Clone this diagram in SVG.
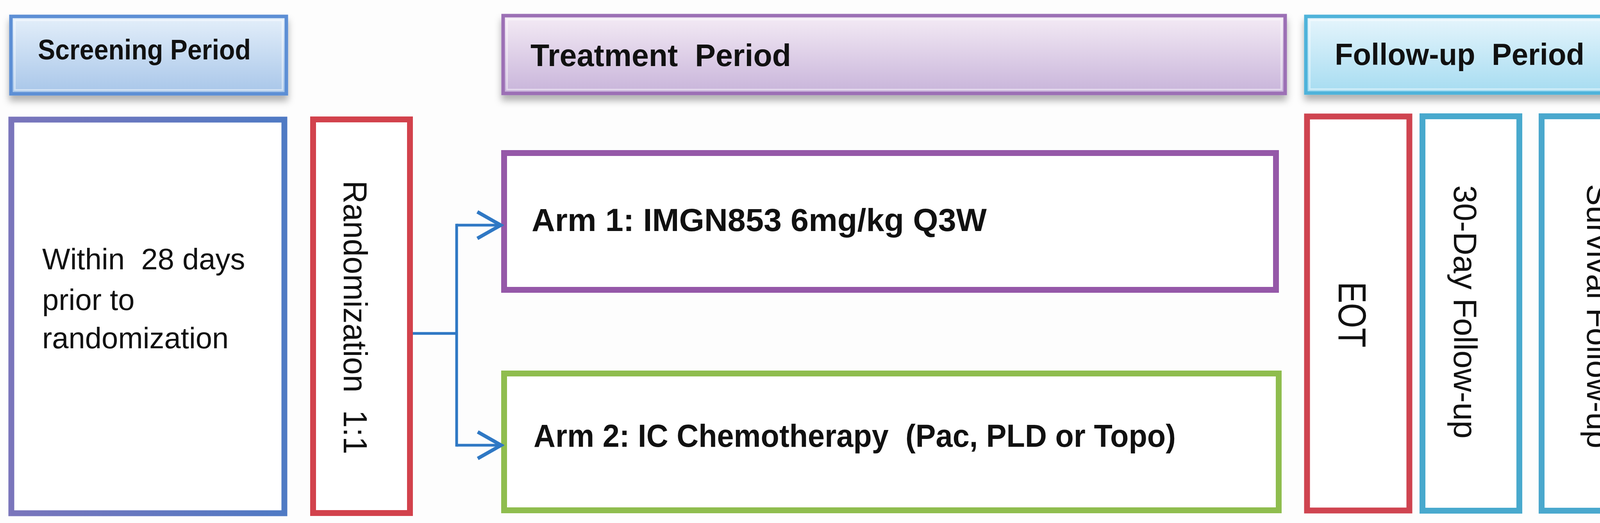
<svg xmlns="http://www.w3.org/2000/svg" width="4380" height="1338" viewBox="0 0 4380 1338">
  <style>
    .hdr { font-family: "Liberation Sans", Arial, sans-serif; font-weight: bold; fill: #111; }
    .arm { font-family: "Liberation Sans", Arial, sans-serif; font-weight: bold; fill: #111; font-size: 82px; }
    .lbl { font-family: "Liberation Sans", Arial, sans-serif; fill: #111; }
    .box { fill: #ffffff; stroke-width: 15; }
    .conn { fill: none; stroke: #2f78c4; stroke-width: 7; }
  </style>
  <defs>
    <linearGradient id="gScr" x1="0" y1="0" x2="0" y2="1">
      <stop offset="0" stop-color="#e4effa"/>
      <stop offset="1" stop-color="#a8c6e9"/>
    </linearGradient>
    <linearGradient id="gTrt" x1="0" y1="0" x2="0" y2="1">
      <stop offset="0" stop-color="#f4ebf5"/>
      <stop offset="1" stop-color="#c8b4da"/>
    </linearGradient>
    <linearGradient id="gFol" x1="0" y1="0" x2="0" y2="1">
      <stop offset="0" stop-color="#e6f5fc"/>
      <stop offset="1" stop-color="#a6dcf1"/>
    </linearGradient>
    <linearGradient id="gScrStroke" x1="0" y1="0" x2="1" y2="0">
      <stop offset="0" stop-color="#7a75bb"/>
      <stop offset="1" stop-color="#4f7ac4"/>
    </linearGradient>
    <filter id="shadow" x="-5%" y="-20%" width="110%" height="150%">
      <feDropShadow dx="0" dy="14" stdDeviation="9" flood-color="#000" flood-opacity="0.3"/>
    </filter>
    <marker id="arrow" viewBox="-8 -8 76 84" refX="60" refY="34" markerWidth="76" markerHeight="84" markerUnits="userSpaceOnUse" orient="auto">
      <path d="M0,0 L60,34 L0,68" fill="none" stroke="#2f78c4" stroke-width="9" stroke-linejoin="miter"/>
    </marker>
  </defs>

  <rect x="0" y="0" width="4380" height="1338" fill="#fdfdfd"/>

  <!-- Headers -->
  <g id="screening-header">
    <rect x="28" y="42" width="705" height="198" fill="url(#gScr)" stroke="#5d8fd5" stroke-width="9" filter="url(#shadow)"/>
    <rect x="38" y="52" width="685" height="178" fill="none" stroke="#ffffff" stroke-opacity="0.45" stroke-width="4"/>
    <text class="hdr" x="97" y="152" font-size="72" textLength="545" lengthAdjust="spacingAndGlyphs">Screening Period</text>
  </g>

  <g id="treatment-header">
    <rect x="1288" y="40" width="2002" height="199" fill="url(#gTrt)" stroke="#9c6fb5" stroke-width="9" filter="url(#shadow)"/>
    <rect x="1298" y="50" width="1982" height="179" fill="none" stroke="#ffffff" stroke-opacity="0.45" stroke-width="4"/>
    <text class="hdr" x="1358" y="169" font-size="80" textLength="667" lengthAdjust="spacingAndGlyphs">Treatment&#160; Period</text>
  </g>

  <g id="followup-header">
    <rect x="3343" y="42" width="1005" height="196" fill="url(#gFol)" stroke="#4fb3da" stroke-width="9" filter="url(#shadow)"/>
    <rect x="3353" y="52" width="985" height="176" fill="none" stroke="#ffffff" stroke-opacity="0.45" stroke-width="4"/>
    <text class="hdr" x="3417" y="166" font-size="78" textLength="639" lengthAdjust="spacingAndGlyphs">Follow-up&#160; Period</text>
  </g>

  <!-- Body boxes -->
  <g id="screening-window">
    <rect class="box" x="29" y="306" width="699" height="1007" stroke="url(#gScrStroke)" stroke-width="16"/>
    <text class="lbl" font-size="76">
      <tspan x="108" y="689">Within&#160; 28 days</tspan>
      <tspan x="108" y="793">prior to</tspan>
      <tspan x="108" y="891">randomization</tspan>
    </text>
  </g>

  <g id="randomization">
    <rect class="box" x="801.5" y="305.5" width="248" height="1007" stroke="#d2424c"/>
    <text class="lbl" font-size="86" text-anchor="middle" transform="translate(880,812) rotate(90)" textLength="700" lengthAdjust="spacingAndGlyphs">Randomization&#160; 1:1</text>
  </g>

  <g id="arm1">
    <rect class="box" x="1290.5" y="391.5" width="1976" height="350" stroke="#9558a8"/>
    <text class="arm" x="1361" y="591" textLength="1165" lengthAdjust="spacingAndGlyphs">Arm 1: IMGN853 6mg/kg Q3W</text>
  </g>

  <g id="arm2">
    <rect class="box" x="1290.5" y="955.5" width="1983" height="350" stroke="#8fbd4e"/>
    <text class="arm" x="1366" y="1143" textLength="1644" lengthAdjust="spacingAndGlyphs">Arm 2: IC Chemotherapy&#160; (Pac, PLD or Topo)</text>
  </g>

  <g id="eot">
    <rect class="box" x="3346" y="298" width="262" height="1008" stroke="#cf4450" stroke-width="16"/>
    <text class="lbl" font-size="100" text-anchor="middle" transform="translate(3427,805) rotate(90)" textLength="168" lengthAdjust="spacingAndGlyphs">EOT</text>
  </g>

  <g id="followup-30day">
    <rect class="box" x="3641.5" y="297.5" width="248" height="1009" stroke="#48a9cd"/>
    <text class="lbl" font-size="84" text-anchor="middle" transform="translate(3722,798) rotate(90)" textLength="648" lengthAdjust="spacingAndGlyphs">30-Day Follow-up</text>
  </g>

  <g id="followup-survival">
    <rect class="box" x="3946.5" y="297.5" width="402" height="1009" stroke="#4aa8cd"/>
    <text class="lbl" font-size="84" text-anchor="middle" transform="translate(4178,803) rotate(90)" textLength="428" lengthAdjust="spacingAndGlyphs">Response &amp;</text>
    <text class="lbl" font-size="84" text-anchor="middle" transform="translate(4063,809) rotate(90)" textLength="676" lengthAdjust="spacingAndGlyphs">Survival Follow-up</text>
  </g>

  <!-- Connectors -->
  <g id="connectors">
    <path class="conn" d="M1057,853 H1169"/>
    <path class="conn" d="M1169,572.5 V1142.5"/>
    <path class="conn" d="M1169,576 H1282" marker-end="url(#arrow)"/>
    <path class="conn" d="M1169,1139 H1283" marker-end="url(#arrow)"/>
  </g>
</svg>
